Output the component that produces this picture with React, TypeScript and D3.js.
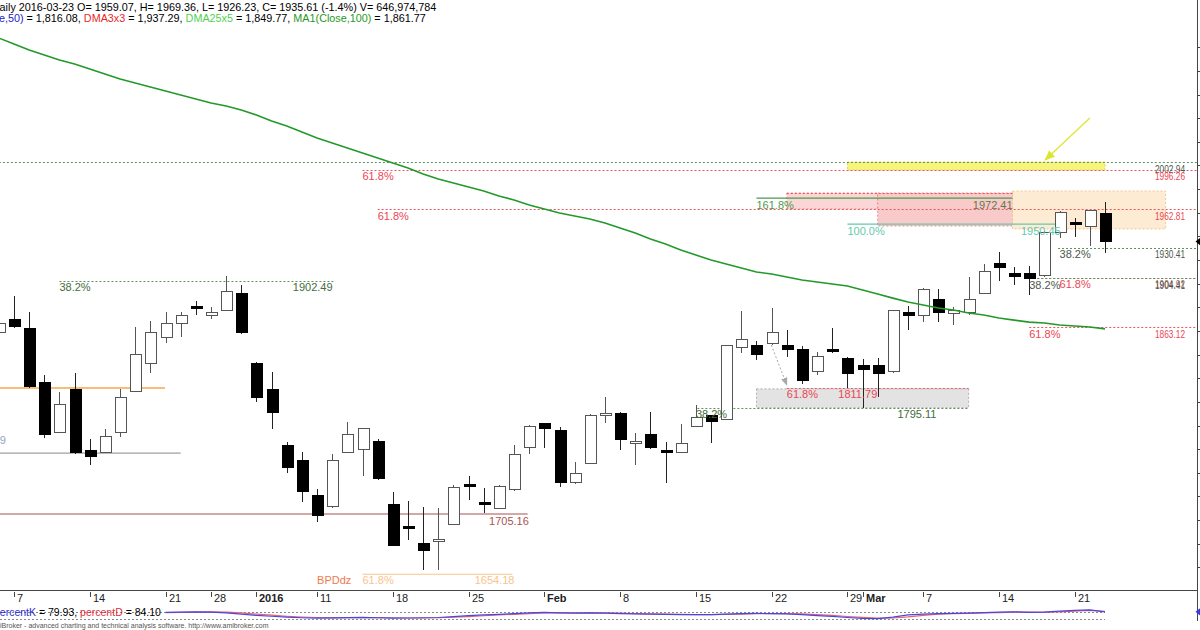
import React from 'react';
import * as d3 from 'd3';

// ---------- DATA ----------
const FIRST_BAR = -1; // first array entry is the partially visible bar left of the view
const opens = [1858.3, 1870.1, 1862.5, 1816.0, 1774.5, 1810.9, 1758.5, 1757.6, 1774.5, 1808.4, 1832.1, 1854.1, 1865.9, 1880.3, 1873.5, 1877.7, 1891.3, 1832.1, 1810.9, 1762.7, 1750.8, 1721.2, 1711.1, 1757.6, 1760.1, 1766.1, 1712.8, 1695.0, 1680.6, 1682.3, 1696.7, 1729.7, 1714.5, 1710.2, 1725.5, 1761.8, 1781.3, 1776.2, 1731.4, 1748.3, 1788.9, 1790.6, 1765.2, 1772.0, 1759.3, 1757.6, 1779.6, 1788.1, 1785.5, 1846.4, 1847.3, 1849.0, 1847.3, 1843.9, 1826.1, 1844.7, 1836.3, 1830.4, 1830.4, 1825.3, 1876.0, 1873.5, 1887.0, 1874.4, 1876.0, 1892.1, 1916.7, 1909.0, 1908.2, 1906.5, 1943.7, 1951.8, 1948.0, 1959.07];
const highs = [1871.0, 1889.6, 1876.0, 1822.7, 1808.4, 1824.4, 1768.6, 1777.1, 1810.9, 1863.4, 1868.4, 1876.0, 1876.0, 1885.4, 1880.3, 1906.5, 1898.9, 1833.7, 1825.3, 1766.1, 1757.6, 1726.3, 1755.9, 1783.0, 1777.6, 1768.6, 1723.8, 1716.2, 1711.1, 1710.2, 1729.7, 1737.3, 1727.2, 1729.3, 1763.5, 1780.1, 1781.8, 1778.8, 1749.1, 1789.4, 1804.1, 1791.1, 1773.7, 1791.4, 1766.1, 1781.3, 1797.4, 1788.6, 1847.8, 1876.9, 1851.5, 1879.4, 1860.8, 1847.3, 1842.2, 1862.5, 1838.0, 1836.3, 1837.1, 1877.4, 1881.1, 1896.0, 1895.5, 1880.3, 1905.7, 1916.7, 1926.8, 1914.1, 1915.0, 1944.2, 1961.1, 1955.6, 1962.0, 1969.36];
const lows = [1855.7, 1862.5, 1811.8, 1769.5, 1774.0, 1756.3, 1746.6, 1757.0, 1770.3, 1808.0, 1824.4, 1849.8, 1854.9, 1873.5, 1870.1, 1877.2, 1857.8, 1799.9, 1777.1, 1739.8, 1715.3, 1698.4, 1710.6, 1757.1, 1737.3, 1734.3, 1678.4, 1683.2, 1657.8, 1657.8, 1696.2, 1717.0, 1706.0, 1709.7, 1725.0, 1755.9, 1761.0, 1728.0, 1730.9, 1747.8, 1782.1, 1759.3, 1746.6, 1760.5, 1731.4, 1757.1, 1779.1, 1765.2, 1785.0, 1841.4, 1835.4, 1848.5, 1838.0, 1815.1, 1822.7, 1841.4, 1811.8, 1795.1, 1804.1, 1824.8, 1860.8, 1867.6, 1867.6, 1865.0, 1873.5, 1891.6, 1902.3, 1898.9, 1890.4, 1906.0, 1938.7, 1939.5, 1931.9, 1926.23];
const closes = [1866.7, 1864.2, 1813.4, 1772.8, 1798.2, 1756.8, 1754.2, 1771.1, 1803.3, 1839.7, 1858.3, 1865.9, 1873.5, 1879.4, 1876.0, 1893.0, 1858.3, 1804.1, 1791.4, 1744.9, 1724.6, 1703.5, 1750.8, 1772.0, 1777.1, 1734.8, 1678.9, 1692.5, 1673.9, 1684.0, 1727.2, 1728.8, 1713.6, 1728.8, 1755.1, 1779.6, 1777.1, 1731.4, 1739.0, 1788.9, 1790.6, 1768.6, 1766.9, 1761.0, 1757.6, 1765.2, 1787.2, 1783.8, 1847.3, 1853.2, 1840.5, 1859.1, 1844.7, 1817.7, 1838.0, 1843.1, 1823.6, 1827.8, 1824.4, 1876.9, 1872.7, 1895.5, 1876.0, 1877.7, 1887.0, 1909.9, 1913.3, 1905.7, 1904.8, 1943.7, 1960.6, 1951.3, 1961.5, 1935.61];
const ma100 = [2107.8, 2102.8, 2097.7, 2093.5, 2089.2, 2085.9, 2081.6, 2077.4, 2073.2, 2069.8, 2066.4, 2063.0, 2059.6, 2056.2, 2052.9, 2050.3, 2046.9, 2042.7, 2037.6, 2033.4, 2028.3, 2023.2, 2019.0, 2014.8, 2010.5, 2006.3, 2002.1, 1997.9, 1992.8, 1988.6, 1985.2, 1981.8, 1978.4, 1974.2, 1970.8, 1966.6, 1963.2, 1959.8, 1957.2, 1954.7, 1951.3, 1947.1, 1942.9, 1937.8, 1933.5, 1928.5, 1924.2, 1920.0, 1916.6, 1913.2, 1909.9, 1908.2, 1905.6, 1903.1, 1901.4, 1899.7, 1898.0, 1894.6, 1891.2, 1887.8, 1884.5, 1881.9, 1879.4, 1877.7, 1875.2, 1873.5, 1870.9, 1869.2, 1867.5, 1866.7, 1865.0, 1864.2, 1863.3, 1861.8];

const STOCH_FIRST_BAR = 10;
const percentK = [76, 78, 80, 78, 72, 62, 52, 45, 38, 33, 30, 32, 34, 36, 33, 30, 31, 33, 35, 42, 50, 55, 60, 66, 72, 75, 72, 70, 72, 70, 66, 63, 62, 60, 58, 57, 58, 62, 66, 67, 66, 64, 58, 50, 44, 35, 28, 26, 38, 55, 62, 66, 68, 70, 74, 78, 80, 76, 78, 86, 92, 95, 79.93];
const percentD = [74, 76, 78, 79, 77, 71, 62, 53, 45, 39, 35, 32, 33, 34, 34, 33, 31, 31, 33, 37, 42, 49, 55, 60, 66, 71, 73, 72, 71, 71, 69, 66, 64, 62, 60, 58, 58, 59, 62, 65, 66, 66, 63, 57, 51, 43, 36, 30, 31, 40, 52, 61, 65, 68, 71, 74, 77, 78, 78, 80, 85, 91, 84.1];

const tickBars = [0, 5, 10, 13, 16, 20, 25, 30, 35, 40, 45, 50, 55, 56, 60, 65, 70];
const tickLabels = ['7', '14', '21', '28', '2016', '11', '18', '25', 'Feb', '8', '15', '22', '29', 'Mar', '7', '14', '21'];
const boldTickLabels = ['2016', 'Feb', 'Mar'];

// zones: [fromBar, toBar], [lowPrice, highPrice]
const zoneNames = ['yellow', 'pinkA', 'pinkB', 'peach', 'gray'];
const zoneBars = [[55.0, 72.0], [51.0, 57.0], [57.0, 65.9], [65.9, 76.0], [49.0, 63.0]];
const zonePrices = [[1996.26, 2002.94], [1963.2, 1976.7], [1948.8, 1976.7], [1946.3, 1978.4], [1795.11, 1811.0]];

// dotted levels
const dottedPrices = [2002.94, 1996.26, 1962.81, 1976.7, 1930.41, 1904.92, 1904.41, 1863.12, 1902.49, 1811.79, 1795.11];
const dottedFrom = [-1, 23.0, 24.0, 51.0, 68.9, 67.0, 67.0, 67.0, 3.0, 51.0, 45.1];
const dottedTo = [78.1, 78.1, 78.1, 65.9, 78.1, 78.1, 78.1, 78.1, 21.1, 63.0, 63.0];
const dottedKind = ['g', 'r', 'r', 'r', 'g', 'r', 'g', 'r', 'g', 'r', 'g'];

// solid levels
const solidPrices = [1811.79, 1756.69, 1705.16, 1654.18, 1972.41, 1950.45];
const solidFrom = [-1, -1, -1, 23.0, 49.0, 55.0];
const solidTo = [9.97, 11.0, 33.9, 32.9, 65.9, 69.0];
const solidKind = ['orange', 'gray', 'brown', 'lightorange', 'green', 'teal'];

// in-chart labels
const labelTexts = ['61.8%', '61.8%', '38.2%', '1902.49', '1705.16', 'BPDdz', '61.8%', '1654.18', '161.8%', '1972.41', '100.0%', '1950.45', '38.2%', '38.2%', '61.8%', '61.8%', '61.8%', '1811.79', '38.2%', '1795.11', '1756.69'];
const labelBars = [23.0, 24.0, 3.0, 18.4, 31.35, 20.0, 23.0, 30.4, 49.0, 65.9, 55.0, 66.45, 69.0, 67.0, 69.0, 67.0, 51.0, 54.4, 45.0, 58.3, -0.53];
const labelPrices = [1996.26, 1962.81, 1902.49, 1902.49, 1705.16, 1654.18, 1654.18, 1654.18, 1972.41, 1972.41, 1950.45, 1950.45, 1930.41, 1904.41, 1904.92, 1863.12, 1811.79, 1811.79, 1795.11, 1795.11, 1756.69];
const labelKind = ['red', 'red', 'dkgreen', 'dkgreen', 'brown', 'bpd', 'lightorange', 'lightorange', 'green', 'olive', 'teal', 'teal', 'dkgray', 'dkgray', 'red', 'red', 'red', 'red', 'dkgreen', 'dkgreen', 'blue'];
const labelAnchorEnd = ['1972.41', '1756.69'];

// right-edge value labels
const rightPrices = [2002.94, 1996.26, 1962.81, 1930.41, 1904.92, 1904.41, 1863.12];
const rightKind = ['dkgray', 'red', 'red', 'dkgray', 'brown', 'dkgray', 'red'];

// ---------- STYLE ----------
const FONT = "'Liberation Sans', Arial, Helvetica, sans-serif";
const COLORS: Record<string, string> = {
  g: '#5f915f', r: '#ea5560',
  orange: '#f3a84c', gray: '#a0a0a0', brown: '#a85550', lightorange: '#f7c48e', green: '#4d9a4d', teal: '#66c9ad',
  red: '#ec4552', dkgreen: '#446c3c', bpd: '#f07a4e', olive: '#5f7a4a', dkgray: '#4c564c', blue: '#8fa6c6',
};
const ZONE_FILL: Record<string, string> = { yellow: '#f6f47a', pinkA: '#fbd6d6', pinkB: '#f9caca', peach: '#fdebd3', gray: '#e3e3e3' };
const ZONE_STROKE: Record<string, string> = { yellow: '#d8d848', pinkA: '#ee8a8a', pinkB: '#ee8a8a', peach: '#f5c890', gray: '#b0b0b0' };

export default function App() {
  const x = d3.scaleLinear().domain([0, 72]).range([14, 1105]);
  const y = d3.scaleLinear().domain([1705.16, 2002.94]).range([514, 162]);
  const ys = d3.scaleLinear().domain([20, 80]).range([619.4, 611.8]);

  const bars = opens.map((o, k) => ({ i: k + FIRST_BAR, o, h: highs[k], l: lows[k], c: closes[k] }));
  const maPath = d3.line<number>().x((_, k) => x(k + FIRST_BAR)).y((v) => y(v))(ma100) || '';
  const kPath = d3.line<number>().x((_, k) => x(k + STOCH_FIRST_BAR)).y((v) => ys(v))(percentK) || '';
  const dPath = d3.line<number>().x((_, k) => x(k + STOCH_FIRST_BAR)).y((v) => ys(v))(percentD) || '';
  const axisX = 1197.5;
  const rightTicks = d3.range(1660, 2101, 20);

  return (
    <svg width={1200} height={630} style={{ position: 'absolute', left: 0, top: 0, background: '#fff' }} fontFamily={FONT}>
      <defs>
        <marker id="arrY" viewBox="0 0 10 10" refX="9" refY="5" markerWidth="9" markerHeight="9" orient="auto">
          <path d="M0,1 L10,5 L0,9 z" fill="#dde62e" />
        </marker>
        <marker id="arrG" viewBox="0 0 10 10" refX="9" refY="5" markerWidth="8" markerHeight="8" orient="auto">
          <path d="M0,1 L10,5 L0,9 z" fill="#a8a8a8" />
        </marker>
      </defs>
      <rect x={0} y={0} width={1200} height={630} fill="#fff" />

      {/* zones */}
      {zoneNames.map((n, k) => (
        <rect key={n} x={x(zoneBars[k][0])} y={y(zonePrices[k][1])} width={x(zoneBars[k][1]) - x(zoneBars[k][0])}
          height={y(zonePrices[k][0]) - y(zonePrices[k][1])} fill={ZONE_FILL[n]} stroke={ZONE_STROKE[n]} strokeDasharray="2,2" strokeWidth={1} />
      ))}

      {/* dotted levels */}
      {dottedPrices.map((p, k) => (
        <line key={'d' + k} x1={x(dottedFrom[k])} x2={x(dottedTo[k])} y1={Math.round(y(p)) + 0.5} y2={Math.round(y(p)) + 0.5}
          stroke={COLORS[dottedKind[k]]} strokeDasharray="2,2" strokeWidth={1} />
      ))}
      {/* solid levels */}
      {solidPrices.map((p, k) => (
        <line key={'s' + k} x1={x(solidFrom[k])} x2={x(solidTo[k])} y1={y(p)} y2={y(p)}
          stroke={COLORS[solidKind[k]]} strokeWidth={solidKind[k] === 'orange' ? 1.6 : 1.2} />
      ))}

      {/* arrows */}
      <line x1={x(71.0)} y1={y(2040.2)} x2={x(68.05)} y2={y(2004.6)} stroke="#dde62e" strokeWidth={1.2} markerEnd="url(#arrY)" />
      <line x1={x(49.98)} y1={y(1848.1)} x2={x(51.0)} y2={y(1814.3)} stroke="#a8a8a8" strokeWidth={1} strokeDasharray="2,2" markerEnd="url(#arrG)" />

      {/* candles */}
      <g shapeRendering="crispEdges">
        {bars.map((b) => {
          const cx = Math.round(x(b.i));
          const up = b.c >= b.o;
          const top = y(Math.max(b.o, b.c));
          const bot = y(Math.min(b.o, b.c));
          const hgt = Math.max(bot - top, 2);
          return (
            <g key={b.i}>
              <line x1={cx + 0.5} x2={cx + 0.5} y1={y(b.h)} y2={y(b.l)} stroke={up ? '#555' : '#222'} strokeWidth={1} />
              <rect x={cx - 5} y={top} width={11} height={hgt} fill={up ? '#fff' : '#000'} stroke={up ? '#555' : '#000'} strokeWidth={1} />
            </g>
          );
        })}
      </g>

      {/* MA(100) */}
      <path d={maPath} fill="none" stroke="#23992a" strokeWidth={1.6} />

      {/* in-chart labels */}
      {labelTexts.map((t, k) => {
        const end = labelAnchorEnd.includes(t);
        const dy = t === '1756.69' ? -9 : labelKind[k] === 'bpd' || labelKind[k] === 'lightorange' ? 10 : 10.5;
        return (
          <text key={'l' + k} x={x(labelBars[k])} y={y(labelPrices[k]) + dy} fontSize={11} fill={COLORS[labelKind[k]]}
            textAnchor={end ? 'end' : 'start'}>{t}</text>
        );
      })}

      {/* right value labels */}
      {rightPrices.map((p, k) => (
        <text key={'r' + k} x={1155} y={y(p) + 10.5} fontSize={11} fill={COLORS[rightKind[k]]}
          textLength={30} lengthAdjust="spacingAndGlyphs" opacity={rightKind[k] === 'brown' ? 0.85 : 1}>{p.toFixed(2)}</text>
      ))}

      {/* right axis */}
      <line x1={axisX} x2={axisX} y1={0} y2={621} stroke="#444" strokeWidth={1} />
      {rightTicks.map((t) => (
        <line key={'t' + t} x1={axisX} x2={1201} y1={Math.round(y(t)) + 0.5} y2={Math.round(y(t)) + 0.5} stroke="#444" />
      ))}
      <path d={`M${axisX - 2},${y(1935.61)} l5,-4 l0,8 z`} fill="#000" />

      {/* x axis */}
      <line x1={0} x2={axisX} y1={590.5} y2={590.5} stroke="#444" strokeWidth={1} />
      {tickBars.map((b, k) => {
        const tx = Math.round(x(b)) + 0.5;
        const bold = boldTickLabels.includes(tickLabels[k]);
        return (
          <g key={'x' + k}>
            <line x1={tx} x2={tx} y1={592} y2={597} stroke="#444" />
            <text x={tx + 2.5} y={602} fontSize={11} fontWeight={bold ? 'bold' : 'normal'} fill="#222">{tickLabels[k]}</text>
          </g>
        );
      })}

      {/* stochastic pane */}
      <line x1={0} x2={x(72)} y1={Math.round(ys(80)) + 0.5} y2={Math.round(ys(80)) + 0.5} stroke="#888" strokeDasharray="2,2" />
      <line x1={0} x2={x(72)} y1={Math.round(ys(20)) + 0.5} y2={Math.round(ys(20)) + 0.5} stroke="#888" strokeDasharray="2,2" />
      <path d={dPath} fill="none" stroke="#f06070" strokeWidth={1.2} />
      <path d={kPath} fill="none" stroke="#4848e0" strokeWidth={1.2} />
      <path d={`M${axisX - 2},${ys(percentK[percentK.length - 1])} l5,-4 l0,8 z`} fill="#3a3ae0" />
      <text x={-6} y={615.5} fontSize={10.5}>
        <tspan fill="#2b2bd0">percentK</tspan><tspan fill="#000"> = 79.93, </tspan>
        <tspan fill="#e03040">percentD</tspan><tspan fill="#000"> = 84.10</tspan>
      </text>

      {/* header */}
      <text x={-8.2} y={11} fontSize={10.8} fill="#000">Daily 2016-03-23 O= 1959.07, H= 1969.36, L= 1926.23, C= 1935.61 (-1.4%) V= 646,974,784</text>
      <text x={-42.5} y={21.5} fontSize={10.8}>
        <tspan fill="#2323c8">MA(Close,50)</tspan><tspan fill="#000"> = 1,816.08, </tspan>
        <tspan fill="#e82828">DMA3x3</tspan><tspan fill="#000"> = 1,937.29, </tspan>
        <tspan fill="#4fd04f">DMA25x5</tspan><tspan fill="#000"> = 1,849.77, </tspan>
        <tspan fill="#1f9a1f">MA1(Close,100)</tspan><tspan fill="#000"> = 1,861.77</tspan>
      </text>

      {/* footer */}
      <text x={-10.5} y={628} fontSize={7} fill="#555">AmiBroker - advanced charting and technical analysis software. http://www.amibroker.com</text>
    </svg>
  );
}
